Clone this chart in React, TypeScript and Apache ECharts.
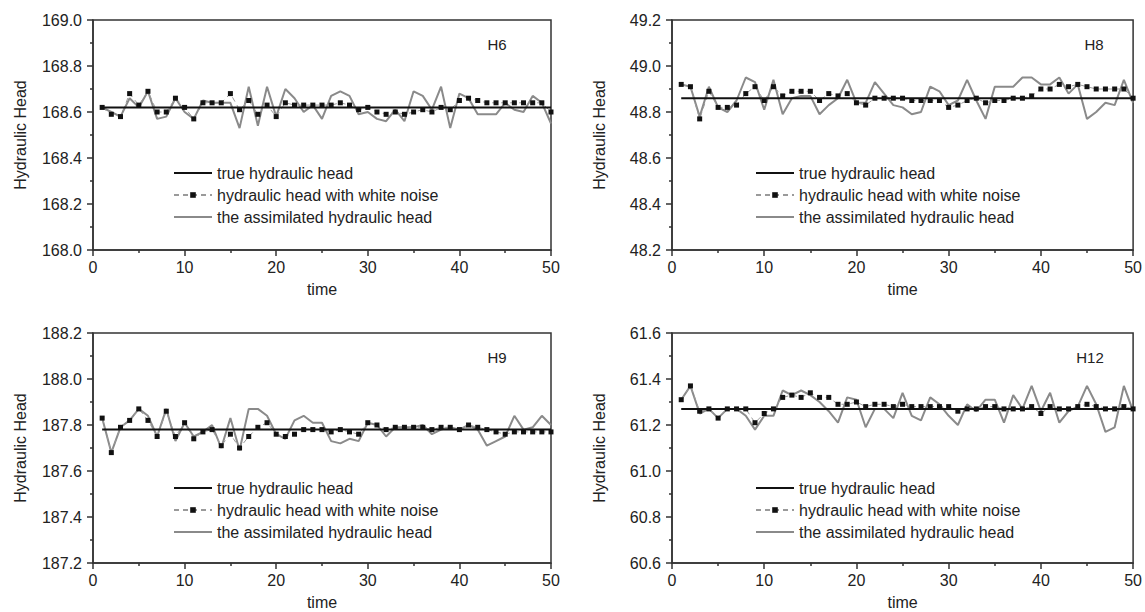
import React, { useEffect, useRef } from "react";
import * as echarts from "echarts";

const TIME = [1,2,3,4,5,6,7,8,9,10,11,12,13,14,15,16,17,18,19,20,21,22,23,24,25,26,27,28,29,30,31,32,33,34,35,36,37,38,39,40,41,42,43,44,45,46,47,48,49,50];

const X_TICKS = [0, 10, 20, 30, 40, 50];
const SERIES_NAMES = ["true hydraulic head", "hydraulic head with white noise", "the assimilated hydraulic head"];

// H6
const H6_TRUE = 168.62;
const H6_NOISE = [168.62,168.59,168.58,168.68,168.63,168.69,168.60,168.60,168.66,168.62,168.57,168.64,168.64,168.64,168.68,168.61,168.65,168.59,168.63,168.58,168.64,168.63,168.63,168.63,168.63,168.63,168.64,168.63,168.61,168.62,168.60,168.59,168.60,168.59,168.60,168.61,168.60,168.62,168.61,168.65,168.66,168.65,168.64,168.64,168.64,168.64,168.64,168.64,168.64,168.60];
const H6_ASSIM = [168.62,168.60,168.58,168.66,168.62,168.69,168.57,168.58,168.66,168.60,168.57,168.65,168.64,168.64,168.64,168.53,168.71,168.54,168.71,168.58,168.70,168.66,168.60,168.63,168.57,168.67,168.69,168.67,168.59,168.60,168.57,168.56,168.61,168.56,168.69,168.67,168.61,168.71,168.53,168.68,168.66,168.59,168.59,168.59,168.64,168.61,168.60,168.67,168.64,168.55];

// H8
const H8_TRUE = 48.86;
const H8_NOISE = [48.92,48.91,48.77,48.89,48.82,48.82,48.83,48.88,48.91,48.85,48.91,48.87,48.89,48.89,48.89,48.85,48.88,48.87,48.88,48.84,48.83,48.86,48.86,48.86,48.86,48.85,48.85,48.85,48.85,48.82,48.83,48.85,48.86,48.84,48.85,48.85,48.86,48.86,48.87,48.90,48.90,48.92,48.91,48.92,48.91,48.90,48.90,48.90,48.90,48.86];
const H8_ASSIM = [48.92,48.91,48.78,48.91,48.82,48.80,48.85,48.95,48.93,48.81,48.94,48.79,48.86,48.87,48.87,48.79,48.83,48.86,48.94,48.84,48.84,48.93,48.88,48.83,48.82,48.79,48.80,48.91,48.89,48.83,48.85,48.94,48.85,48.77,48.91,48.91,48.91,48.95,48.95,48.92,48.92,48.95,48.88,48.92,48.77,48.80,48.84,48.83,48.94,48.84];

// H9
const H9_TRUE = 187.78;
const H9_NOISE = [187.83,187.68,187.79,187.82,187.87,187.82,187.75,187.86,187.75,187.81,187.74,187.77,187.78,187.71,187.76,187.70,187.75,187.79,187.81,187.76,187.75,187.76,187.78,187.78,187.78,187.77,187.78,187.77,187.76,187.81,187.80,187.78,187.79,187.79,187.79,187.79,187.78,187.79,187.79,187.78,187.80,187.79,187.78,187.77,187.76,187.77,187.77,187.77,187.77,187.77];
const H9_ASSIM = [187.83,187.68,187.79,187.82,187.87,187.84,187.75,187.87,187.73,187.81,187.75,187.77,187.80,187.70,187.83,187.69,187.87,187.87,187.84,187.76,187.74,187.82,187.84,187.81,187.81,187.73,187.72,187.74,187.73,187.81,187.80,187.75,187.79,187.79,187.79,187.80,187.76,187.78,187.79,187.78,187.80,187.78,187.71,187.73,187.75,187.84,187.78,187.79,187.84,187.80];

// H12
const H12_TRUE = 61.27;
const H12_NOISE = [61.31,61.37,61.26,61.27,61.23,61.27,61.27,61.27,61.21,61.25,61.27,61.32,61.33,61.32,61.34,61.32,61.32,61.29,61.29,61.30,61.28,61.29,61.29,61.28,61.29,61.28,61.28,61.28,61.28,61.28,61.26,61.27,61.27,61.28,61.28,61.27,61.27,61.27,61.28,61.25,61.28,61.27,61.27,61.28,61.29,61.28,61.27,61.27,61.28,61.27];
const H12_ASSIM = [61.31,61.37,61.25,61.27,61.23,61.27,61.27,61.24,61.18,61.24,61.24,61.35,61.33,61.35,61.33,61.30,61.26,61.21,61.32,61.31,61.19,61.27,61.27,61.23,61.34,61.24,61.22,61.32,61.29,61.24,61.20,61.29,61.26,61.31,61.31,61.21,61.33,61.27,61.37,61.26,61.34,61.21,61.26,61.28,61.37,61.29,61.17,61.19,61.37,61.26];

const Y_RANGES = [
  [168.0, 169.0],
  [48.2, 49.2],
  [187.2, 188.2],
  [60.6, 61.6],
];
const PANEL_LABELS = ["H6", "H8", "H9", "H12"];

const FONT = "'Liberation Sans', Arial, Helvetica, sans-serif";

export default function App() {
  const ref = useRef<HTMLDivElement>(null);

  useEffect(() => {
    if (!ref.current) return;
    const chart = echarts.init(ref.current, undefined, { renderer: "svg" });

    const panels = [
      { trueV: H6_TRUE, noise: H6_NOISE, assim: H6_ASSIM },
      { trueV: H8_TRUE, noise: H8_NOISE, assim: H8_ASSIM },
      { trueV: H9_TRUE, noise: H9_NOISE, assim: H9_ASSIM },
      { trueV: H12_TRUE, noise: H12_NOISE, assim: H12_ASSIM },
    ];

    const grids = [
      { left: 93, top: 20, width: 458, height: 230 },
      { left: 672, top: 20, width: 464, height: 230 },
      { left: 93, top: 333, width: 458, height: 230 },
      { left: 672, top: 333, width: 464, height: 230 },
    ];
    const legendPos = [
      { left: 168, top: 160 },
      { left: 750, top: 160 },
      { left: 168, top: 475 },
      { left: 750, top: 475 },
    ];
    const labelPos = [
      { x: 497, y: 44 },
      { x: 1094, y: 44 },
      { x: 497, y: 357 },
      { x: 1090, y: 357 },
    ];

    const axisColor = "#333";

    const xAxis = grids.map((_, i) => ({
      type: "value",
      gridIndex: i,
      min: X_TICKS[0],
      max: X_TICKS[X_TICKS.length - 1],
      interval: X_TICKS[1] - X_TICKS[0],
      name: "time",
      nameLocation: "middle",
      nameGap: 31,
      nameTextStyle: { fontSize: 16, color: "#222", fontFamily: FONT },
      axisLine: { onZero: false, lineStyle: { color: axisColor, width: 1.5 } },
      axisTick: { show: true, inside: false, length: 6, lineStyle: { color: axisColor, width: 1.5 } },
      minorTick: { show: true, splitNumber: 2, length: 3, lineStyle: { color: axisColor, width: 1.5 } },
      axisLabel: { fontSize: 16, color: "#222", margin: 9, fontFamily: FONT },
      splitLine: { show: false },
    }));

    const yAxis = grids.map((_, i) => ({
      type: "value",
      gridIndex: i,
      min: Y_RANGES[i][0],
      max: Y_RANGES[i][1],
      interval: 0.2,
      name: "Hydraulic Head",
      nameLocation: "middle",
      nameGap: 65,
      nameTextStyle: { fontSize: 16, color: "#222", fontFamily: FONT },
      axisLine: { onZero: false, lineStyle: { color: axisColor, width: 1.5 } },
      axisTick: { show: true, inside: false, length: 6, lineStyle: { color: axisColor, width: 1.5 } },
      minorTick: { show: true, splitNumber: 2, length: 3, lineStyle: { color: axisColor, width: 1.5 } },
      axisLabel: {
        fontSize: 16,
        color: "#222",
        margin: 11,
        fontFamily: FONT,
        formatter: (v: number) => v.toFixed(1),
      },
      splitLine: { show: false },
    }));

    const series: any[] = [];
    panels.forEach((p, i) => {
      series.push({
        name: SERIES_NAMES[2],
        type: "line",
        xAxisIndex: i,
        yAxisIndex: i,
        data: TIME.map((t, k) => [t, p.assim[k]]),
        showSymbol: false,
        symbol: "none",
        lineStyle: { color: "#8a8a8a", width: 2 },
        itemStyle: { color: "#8a8a8a" },
        z: 2,
      });
      series.push({
        name: SERIES_NAMES[1],
        type: "line",
        xAxisIndex: i,
        yAxisIndex: i,
        data: TIME.map((t, k) => [t, p.noise[k]]),
        symbol: "rect",
        symbolSize: 5,
        showSymbol: true,
        lineStyle: { color: "#9a9a9a", width: 1, type: [5, 4] },
        itemStyle: { color: "#111" },
        z: 3,
      });
      series.push({
        name: SERIES_NAMES[0],
        type: "line",
        xAxisIndex: i,
        yAxisIndex: i,
        data: [
          [TIME[0], p.trueV],
          [TIME[TIME.length - 1], p.trueV],
        ],
        symbol: "none",
        lineStyle: { color: "#111", width: 2 },
        itemStyle: { color: "#111" },
        z: 4,
      });
    });

    const legend = legendPos.map((lp) => ({
      left: lp.left,
      top: lp.top,
      orient: "vertical",
      itemWidth: 38,
      itemHeight: 7,
      itemGap: 6,
      selectedMode: false,
      data: [
        { name: SERIES_NAMES[0], itemStyle: { opacity: 0 } },
        { name: SERIES_NAMES[1] },
        { name: SERIES_NAMES[2], itemStyle: { opacity: 0 } },
      ],
      textStyle: { fontSize: 16, color: "#222", fontFamily: FONT },
    }));

    const graphic = labelPos.map((lp, i) => ({
      type: "text",
      x: lp.x,
      y: lp.y,
      style: {
        text: PANEL_LABELS[i],
        fontSize: 15,
        fill: "#222",
        fontFamily: FONT,
        textAlign: "center",
        textVerticalAlign: "middle",
      },
    }));

    chart.setOption({
      animation: false,
      backgroundColor: "#fff",
      grid: grids.map((g) => ({
        ...g,
        show: true,
        borderColor: axisColor,
        borderWidth: 1.5,
        backgroundColor: "transparent",
      })),
      xAxis,
      yAxis,
      series,
      legend,
      graphic,
    });

    return () => chart.dispose();
  }, []);

  return (
    <div
      ref={ref}
      style={{ position: "absolute", left: 0, top: 0, width: 1145, height: 612 }}
    />
  );
}
